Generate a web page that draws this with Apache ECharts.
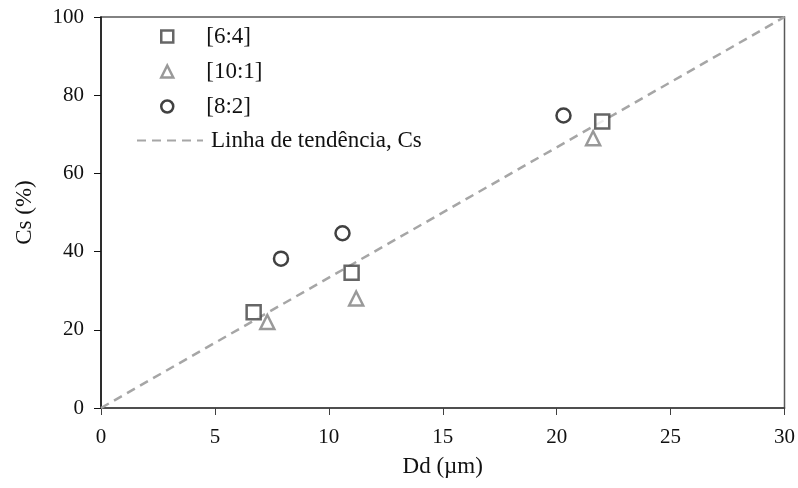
<!DOCTYPE html>
<html>
<head>
<meta charset="utf-8">
<script src="https://cdn.jsdelivr.net/npm/echarts@6/dist/echarts.min.js"></script>
<style>
  html, body { margin: 0; padding: 0; background: #fff; }
  #chart { width: 798px; height: 488px; }
</style>
</head>
<body>
<div id="chart"></div>
<script>
// Dd (µm) vs Cs (%) for three ratios, plus the trend line
const ratio64 = [[6.7, 24.5], [11.0, 34.6], [22.0, 73.3]];
const ratio101 = [[7.3, 22.0], [11.2, 28.0], [21.6, 69.0]];
const ratio82 = [[7.9, 38.2], [10.6, 44.7], [20.3, 74.8]];
const trend = [[0, 0], [30, 100]];
const seriesNames = ['[6:4]', '[10:1]', '[8:2]', 'Linha de tendência, Cs'];

const serif = 'Liberation Serif, Times New Roman, serif';
const legendText = { fontFamily: serif, fontSize: 23, color: '#111' };

const markerStyles = [
  { color: '#fff', borderColor: '#404040', borderWidth: 2.5 },
  { color: '#fff', borderColor: '#7f7f7f', borderWidth: 2.5 },
  { color: '#fff', borderColor: '#111', borderWidth: 2.5 }
];

const chart = echarts.init(document.getElementById('chart'));
chart.setOption({
  animation: false,
  grid: {
    left: 101, right: 13, top: 17, bottom: 80,
    show: true, borderColor: '#595959', borderWidth: 1.5
  },
  legend: [
    {
      // marker entries
      orient: 'vertical',
      left: 155, top: 20,
      itemWidth: 12, itemHeight: 12,
      itemGap: 12,
      textStyle: Object.assign({ padding: [0, 0, 0, 28] }, legendText),
      data: seriesNames.slice(0, 3).map((n, i) => ({ name: n, itemStyle: markerStyles[i] }))
    },
    {
      // dashed trend-line entry
      orient: 'vertical',
      left: 131, top: 124,
      itemWidth: 66, itemHeight: 14,
      textStyle: Object.assign({ padding: [0, 0, 0, 3] }, legendText),
      data: [{ name: seriesNames[3], itemStyle: { opacity: 0 } }]
    }
  ],
  xAxis: {
    type: 'value', min: 0, max: 30, interval: 5,
    name: 'Dd (µm)', nameLocation: 'middle', nameGap: 47,
    nameTextStyle: { fontFamily: serif, fontSize: 23, color: '#111' },
    axisLine: { show: true, lineStyle: { color: '#404040', width: 1.5 } },
    axisTick: { show: true, length: 7, lineStyle: { color: '#404040' } },
    axisLabel: { fontFamily: serif, fontSize: 21, color: '#111', margin: 19 },
    splitLine: { show: false }
  },
  yAxis: {
    type: 'value', min: 0, max: 100, interval: 20,
    name: 'Cs (%)', nameLocation: 'middle', nameGap: 65,
    nameTextStyle: { fontFamily: serif, fontSize: 23, color: '#111' },
    axisLine: { show: true, lineStyle: { color: '#111', width: 1.5 } },
    axisTick: { show: true, length: 7, lineStyle: { color: '#111' } },
    axisLabel: { fontFamily: serif, fontSize: 21, color: '#111', margin: 17 },
    splitLine: { show: false }
  },
  series: [
    {
      name: seriesNames[3], type: 'line', data: trend, symbol: 'none', z: 1,
      lineStyle: { color: '#a6a6a6', width: 2.5, type: [9, 6] }
    },
    {
      name: seriesNames[0], type: 'scatter', data: ratio64,
      symbol: 'rect', symbolSize: 14, z: 3,
      itemStyle: markerStyles[0]
    },
    {
      name: seriesNames[1], type: 'scatter', data: ratio101,
      symbol: 'triangle', symbolSize: 14, z: 3,
      itemStyle: markerStyles[1]
    },
    {
      name: seriesNames[2], type: 'scatter', data: ratio82,
      symbol: 'circle', symbolSize: 14, z: 3,
      itemStyle: markerStyles[2]
    }
  ]
});
</script>
</body>
</html>
